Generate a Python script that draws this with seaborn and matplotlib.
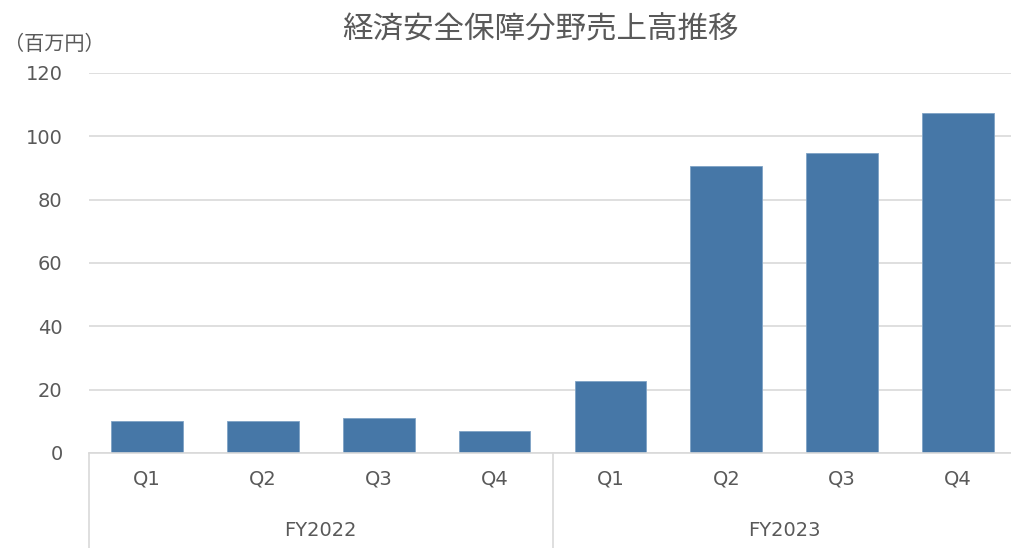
import matplotlib
matplotlib.use("Agg")
import matplotlib.pyplot as plt
import seaborn as sns
import pandas as pd

years = ["FY2022", "FY2023"]
quarters = ["Q1", "Q2", "Q3", "Q4"]
values = [10.2, 10.2, 11.2, 6.8, 22.6, 90.5, 94.8, 107.4]
title = "経済安全保障分野売上高推移"
unit_label = "（百万円）"
yticks = [0, 20, 40, 60, 80, 100, 120]

sns.set_style("white")
plt.rcParams['font.family'] = ['Noto Sans CJK JP', 'DejaVu Sans']
latin = ['DejaVu Sans']
grey = "#595959"

keys = [f"{y} {q}" for y in years for q in quarters]
df = pd.DataFrame({"key": keys, "value": values})

W, H = 1012, 548
fig = plt.figure(figsize=(W / 100, H / 100), dpi=100)
left, right, top, bottom = 89, 1016, 73, 453
ax = fig.add_axes([left / W, 1 - bottom / H, (right - left) / W, (bottom - top) / H])

sns.barplot(data=df, x="key", y="value", order=keys, color="#4677a7",
            width=0.62, saturation=1, ax=ax, edgecolor="#7fa3c6", linewidth=0.6)

ax.set_xlim(-0.5, len(keys) - 0.5)
ax.set_ylim(0, 120)
ax.set_yticks(yticks)
ax.set_yticklabels([str(t) for t in yticks], fontsize=14, color=grey, family=latin)
ax.yaxis.grid(True, color="#d9d9d9", linewidth=1.2)
ax.set_axisbelow(True)
for s in ["top", "right", "left"]:
    ax.spines[s].set_visible(False)
ax.spines["bottom"].set_color("#d9d9d9")
ax.spines["bottom"].set_linewidth(1.2)
ax.tick_params(axis="y", length=0, pad=19)
ax.tick_params(axis="x", length=0, pad=12)
ax.set_xticks(range(len(keys)))
ax.set_xticklabels([q for y in years for q in quarters], fontsize=14, color=grey, family=latin)
ax.set_xlabel("")
ax.set_ylabel("")

# group labels and separators
trans = ax.get_xaxis_transform()
axh = (bottom - top)
for i, y in enumerate(years):
    center = i * 4 + 1.5
    ax.text(center, -(530 - bottom) / axh, y, transform=trans, ha="center", va="center",
            fontsize=14, color=grey, family=latin, clip_on=False)
for xb in [-0.5, 3.5, 7.5]:
    ax.plot([xb, xb], [0, -(H - bottom) / axh], transform=trans, color="#d9d9d9",
            linewidth=1.2, clip_on=False)

fig.text(540 / W, 1 - 30 / H, title, ha="center", va="center", fontsize=22, color=grey)
fig.text(54 / W, 1 - 45 / H, unit_label, ha="center", va="center", fontsize=14.5, color=grey)

fig.savefig("out.png", dpi=100)
